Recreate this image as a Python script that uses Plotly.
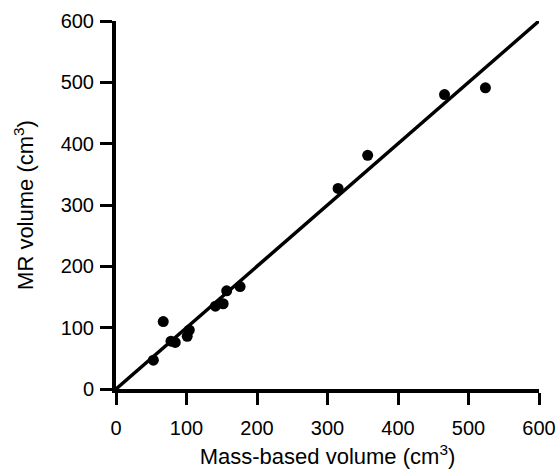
import plotly.graph_objects as go

mass_volume = [53, 67, 78, 84, 101, 104, 141, 152, 157, 176, 315, 357, 466, 524]
mr_volume = [47, 110, 78, 76, 86, 96, 135, 139, 160, 167, 327, 381, 480, 491]
line_x = [0, 600]
line_y = [0, 600]
tick_vals = [0, 100, 200, 300, 400, 500, 600]

FONT = "Liberation Sans, Arial, Helvetica"

fig = go.Figure()
fig.add_trace(go.Scatter(x=line_x, y=line_y, mode="lines",
                         line=dict(color="black", width=3.5), showlegend=False,
                         cliponaxis=False))
fig.add_trace(go.Scatter(x=mass_volume, y=mr_volume, mode="markers",
                         marker=dict(color="black", size=11), showlegend=False))

axis_common = dict(range=[0, 600], tickvals=tick_vals, showgrid=False, zeroline=False,
                   showline=True, linecolor="black", linewidth=4, ticks="outside",
                   ticklen=12, tickwidth=3, tickcolor="black", automargin=False,
                   tickfont=dict(family=FONT, size=20, color="black"))

fig.update_layout(
    width=559, height=470,
    margin=dict(l=116, r=20, t=21, b=81),
    plot_bgcolor="white", paper_bgcolor="white",
    xaxis=dict(**axis_common, ticklabelstandoff=6,
               title=dict(text="Mass-based volume (cm<sup>3</sup>)",
                          font=dict(family=FONT, size=22, color="black"), standoff=12)),
    yaxis=dict(**axis_common, ticklabelstandoff=2,
               title=dict(text="MR volume (cm<sup>3</sup>)",
                          font=dict(family=FONT, size=22, color="black"), standoff=22)),
)
fig.write_html("out.html", config={"displayModeBar": False},
               post_script="document.body.style.margin='0';document.body.style.overflow='hidden';")
